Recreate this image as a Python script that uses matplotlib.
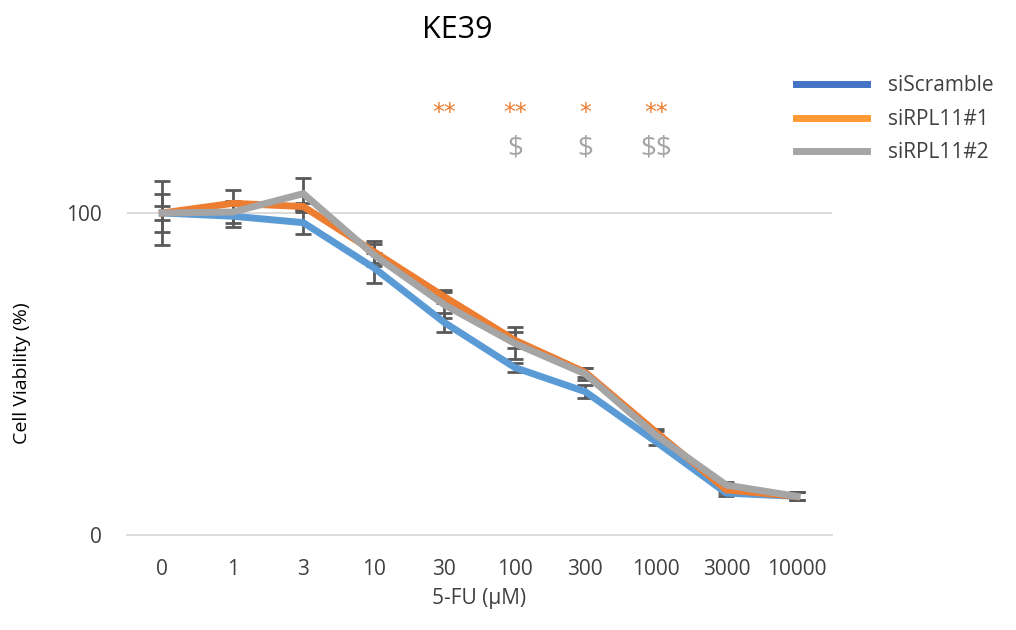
import numpy as np
import matplotlib.pyplot as plt
from matplotlib.lines import Line2D

plt.rcParams["font.family"] = ["Open Sans", "DejaVu Sans"]

# doses (categorical x axis)
doses = ["0", "1", "3", "10", "30", "100", "300", "1000", "3000", "10000"]

# cell viability (%) per series
scramble = [100, 99, 97, 83, 66, 52, 44.5, 29, 13, 12]
rpl11_1 = [100, 103, 102, 88, 74, 60.5, 50.5, 32, 14, 12]
rpl11_2 = [100, 100.3, 106, 87, 71.5, 59.5, 50, 31, 15.5, 12]

# error bars (+/-)
scramble_err = [2.3, 3.5, 3.4, 4.6, 3, 1.5, 2, 1, 1, 1.2]
rpl11_1_err = [6, 4, 1.2, 3.4, 2, 2.5, 1.5, 1, 1, 1.2]
rpl11_2_err = [10, 3.5, 5, 3.4, 4, 5, 2, 1.2, 1, 1.2]

# significance marks
star_pos = [4, 5, 6, 7]
star_txt = ["**", "**", "*", "**"]
dollar_pos = [5, 6, 7]
dollar_txt = ["$", "$", "$$"]

BLUE = "#5B9BD5"
ORANGE = "#ED7D31"
GRAY = "#A5A5A5"
ERR = "#595959"
TXT = "#404040"

fig = plt.figure(figsize=(10.16, 6.3), dpi=100)
ax = fig.add_axes([0.125, 0.1508, 0.694, 0.7667])

x = np.arange(len(doses))
series = [
    (scramble, scramble_err, BLUE),
    (rpl11_1, rpl11_1_err, ORANGE),
    (rpl11_2, rpl11_2_err, GRAY),
]
for vals, err, col in series:
    ax.errorbar(x, vals, yerr=err, fmt="none", ecolor=ERR, elinewidth=2,
                capsize=6, capthick=2, zorder=2)
for vals, err, col in series:
    ax.plot(x, vals, color=col, lw=5, solid_joinstyle="miter", zorder=3)

for p, t in zip(star_pos, star_txt):
    ax.text(p, 131, t, color=ORANGE, fontsize=17, ha="center", va="center",
            family="DejaVu Sans")
for p, t in zip(dollar_pos, dollar_txt):
    ax.text(p, 120, t, color=GRAY, fontsize=20, ha="center", va="center",
            parse_math=False)

ax.set_xlim(-0.5, len(doses) - 0.5)
ax.set_ylim(0, 150)
ax.set_yticks([0, 100])
ax.set_xticks(x)
ax.set_xticklabels(doses)
ax.tick_params(length=0, labelsize=15, colors=TXT)
ax.tick_params(axis="x", pad=17)
ax.tick_params(axis="y", pad=18)
ax.grid(axis="y", color="#D9D9D9", lw=1.3)
ax.set_axisbelow(True)
for s in ["top", "right", "left"]:
    ax.spines[s].set_visible(False)
ax.spines["bottom"].set_color("#D9D9D9")
ax.spines["bottom"].set_linewidth(1.3)

ax.set_xlabel("5-FU (\u03bcM)", fontsize=15, color=TXT, labelpad=6)
fig.text(0.022, 0.408, "Cell Viability (%)", fontsize=14, rotation=90,
         ha="center", va="center", color="#000000")
fig.text(0.45, 0.952, "KE39", fontsize=22, ha="center", va="center", color="#000000")

handles = [
    Line2D([], [], color="#4472C4", lw=5),
    Line2D([], [], color="#FF9933", lw=5),
    Line2D([], [], color=GRAY, lw=5),
]
fig.legend(handles, ["siScramble", "siRPL11#1", "siRPL11#2"],
           loc="upper left", bbox_to_anchor=(0.765, 0.91), frameon=False,
           fontsize=15, handlelength=3.4, labelspacing=0.6, handletextpad=1.0,
           labelcolor=TXT)

fig.savefig("out.png", dpi=100)
